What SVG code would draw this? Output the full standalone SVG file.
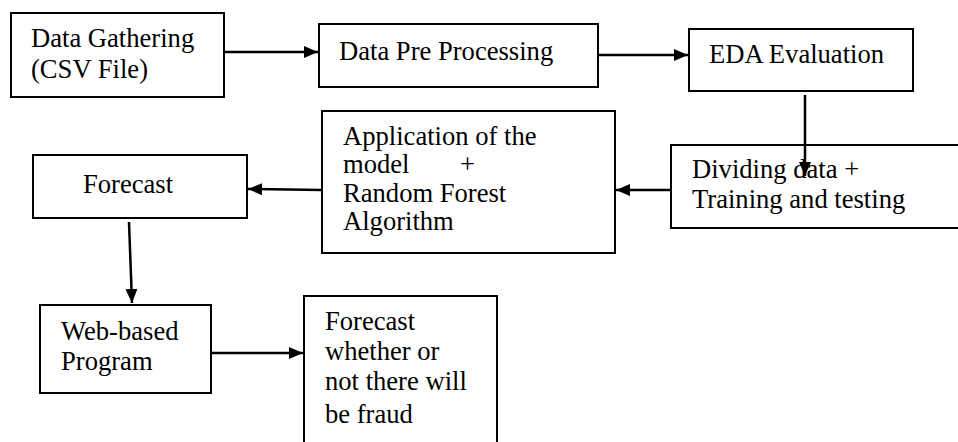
<svg xmlns="http://www.w3.org/2000/svg" width="958" height="442" viewBox="0 0 958 442">
<defs>
<marker id="ah" markerWidth="14" markerHeight="12" refX="14" refY="6" orient="auto" markerUnits="userSpaceOnUse">
<path d="M0,0 L14,6 L0,12 Z" fill="#000"/>
</marker>
<style>
.box{fill:#fff;stroke:#000;stroke-width:2}
text{font-family:'Liberation Serif','Times New Roman',Tinos,'DejaVu Serif',serif;font-size:26.6px;fill:#000}
.c{stroke:#000;stroke-width:2.5;fill:none;marker-end:url(#ah)}
</style>
</defs>
<rect width="958" height="442" fill="#fff"/>
<g id="n1"><rect class="box" x="11" y="13" width="213" height="84"/><text x="31" y="47">Data Gathering</text><text x="31" y="78">(CSV File)</text></g>
<g id="n2"><rect class="box" x="319" y="24" width="279" height="63"/><text x="339" y="60">Data Pre Processing</text></g>
<g id="n3"><rect class="box" x="689" y="29" width="224" height="62"/><text x="709" y="63">EDA Evaluation</text></g>
<g id="n4"><rect class="box" x="671" y="145" width="300" height="83"/><text x="692" y="178">Dividing data +</text><text x="692" y="208">Training and testing</text></g>
<g id="n5"><rect class="box" x="322" y="111" width="293" height="142"/><text x="343" y="145">Application of the</text><text x="343" y="173">model</text><text x="460" y="173">+</text><text x="343" y="202">Random Forest</text><text x="343" y="230">Algorithm</text></g>
<g id="n6"><rect class="box" x="33" y="155" width="214" height="63"/><text x="83" y="193">Forecast</text></g>
<g id="n7"><rect class="box" x="40" y="305" width="171" height="88"/><text x="61" y="340">Web-based</text><text x="61" y="370">Program</text></g>
<g id="n8"><rect class="box" x="304" y="296" width="193" height="160"/><text x="325" y="330">Forecast</text><text x="325" y="360">whether or</text><text x="325" y="390">not there will</text><text x="325" y="423">be fraud</text></g>
<g id="connectors">
<line class="c" x1="224" y1="52" x2="318" y2="52"/>
<line class="c" x1="598" y1="55" x2="688" y2="55"/>
<line class="c" x1="805" y1="95" x2="805" y2="176"/>
<line class="c" x1="671" y1="190" x2="616" y2="190"/>
<line class="c" x1="322" y1="190" x2="248" y2="189"/>
<line class="c" x1="129" y1="222" x2="132" y2="303"/>
<line class="c" x1="211" y1="353" x2="303" y2="353"/>
</g>
</svg>
